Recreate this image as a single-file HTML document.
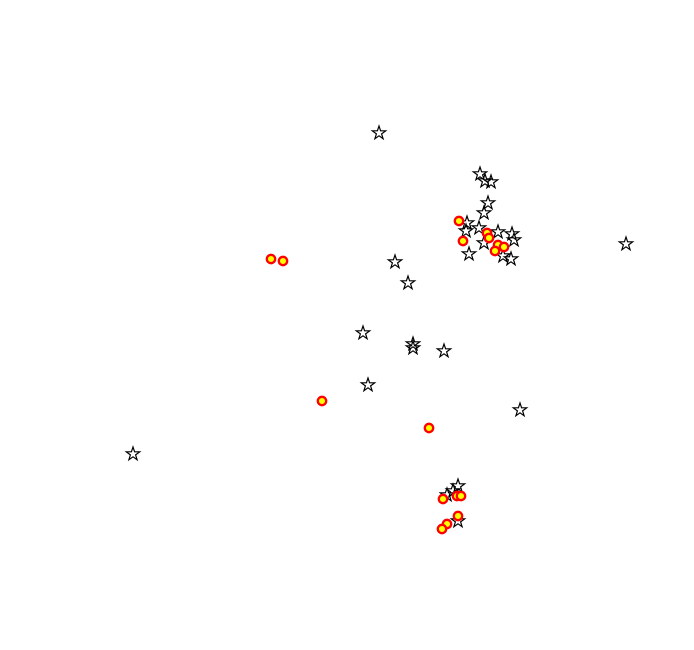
<!DOCTYPE html>
<html><head><style>body{margin:0;background:#fff}svg{display:block}</style></head><body>
<svg width="694" height="650" xmlns="http://www.w3.org/2000/svg" xmlns:xlink="http://www.w3.org/1999/xlink">
<defs>
<polygon id="s" points="0,-7 1.6,-2.2 6.7,-2.2 2.6,0.9 4.1,5.7 0,2.8 -4.1,5.7 -2.6,0.9 -6.7,-2.2 -1.6,-2.2" fill="none" stroke="#000" stroke-width="1.2"/>
<circle id="c" r="4.2" fill="#ff0" stroke="#f00" stroke-width="2.3"/>
</defs>
<g transform="translate(1,1)">
<use xlink:href="#s" x="378" y="132"/>
<use xlink:href="#s" x="479" y="173"/>
<use xlink:href="#s" x="484" y="180"/>
<use xlink:href="#s" x="490" y="181"/>
<use xlink:href="#s" x="487" y="202"/>
<use xlink:href="#s" x="483" y="212"/>
<use xlink:href="#s" x="466" y="222"/>
<use xlink:href="#s" x="465" y="230"/>
<use xlink:href="#s" x="478" y="227"/>
<use xlink:href="#s" x="483" y="242"/>
<use xlink:href="#s" x="468" y="253"/>
<use xlink:href="#s" x="497" y="231"/>
<use xlink:href="#s" x="511" y="233"/>
<use xlink:href="#s" x="513" y="239"/>
<use xlink:href="#s" x="502" y="255"/>
<use xlink:href="#s" x="510" y="258"/>
<use xlink:href="#s" x="625" y="243"/>
<use xlink:href="#s" x="394" y="261"/>
<use xlink:href="#s" x="407" y="282"/>
<use xlink:href="#s" x="362" y="332"/>
<use xlink:href="#s" x="412" y="343"/>
<use xlink:href="#s" x="412" y="347"/>
<use xlink:href="#s" x="443" y="350"/>
<use xlink:href="#s" x="367" y="384"/>
<use xlink:href="#s" x="519" y="409"/>
<use xlink:href="#s" x="132" y="453"/>
<use xlink:href="#s" x="457" y="485"/>
<use xlink:href="#s" x="452" y="490"/>
<use xlink:href="#s" x="446" y="494"/>
<use xlink:href="#s" x="457" y="520"/>
<use xlink:href="#c" x="458" y="220"/>
<use xlink:href="#c" x="462" y="240"/>
<use xlink:href="#c" x="486" y="232"/>
<use xlink:href="#c" x="488" y="237"/>
<use xlink:href="#c" x="497" y="244"/>
<use xlink:href="#c" x="503" y="246"/>
<use xlink:href="#c" x="494" y="250"/>
<use xlink:href="#c" x="270" y="258"/>
<use xlink:href="#c" x="282" y="260"/>
<use xlink:href="#c" x="321" y="400"/>
<use xlink:href="#c" x="428" y="427"/>
<use xlink:href="#c" x="442" y="498"/>
<use xlink:href="#c" x="456" y="495"/>
<use xlink:href="#c" x="460" y="495"/>
<use xlink:href="#c" x="457" y="515"/>
<use xlink:href="#c" x="446" y="523"/>
<use xlink:href="#c" x="441" y="528"/>
</g>
</svg>
</body></html>
